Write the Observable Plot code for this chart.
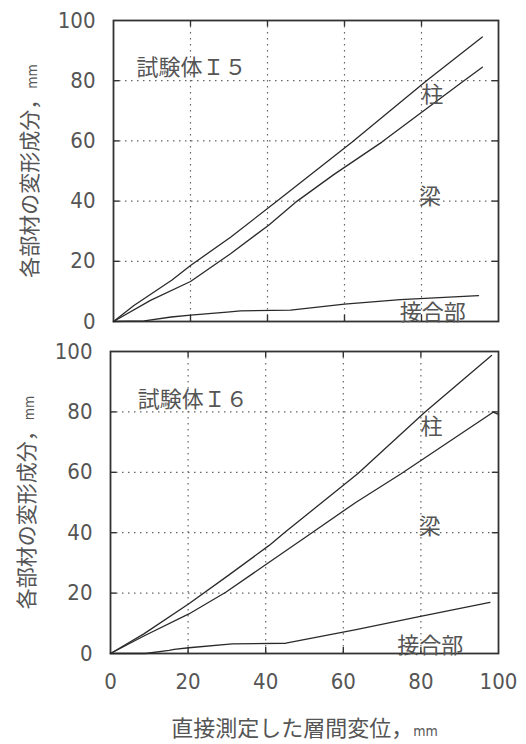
<!DOCTYPE html>
<html><head><meta charset="utf-8">
<script src="https://cdn.jsdelivr.net/npm/d3@7"></script>
<script src="https://cdn.jsdelivr.net/npm/@observablehq/plot@0.6"></script>
<style>
body{margin:0;background:#fff;width:526px;height:744px;overflow:hidden}
svg{display:block}
</style>
</head><body><div id="c"></div>
<script>
// ---- data ----
const ticks = [0, 20, 40, 60, 80, 100];
const seriesNames = ["柱", "梁", "接合部"];

// Specimen I5 (cumulative deformation components)
const i5TotalX = [0, 5.3, 15.2, 20, 30.4, 42.5, 62, 81.3, 95.8];
const i5TotalY = [0, 5.3, 13.8, 18.6, 28, 40, 59.6, 80, 94.5];
const i5MidX = [0, 9.6, 20, 30.4, 40.3, 47.7, 57.2, 69.7, 90.5, 95.8];
const i5MidY = [0, 7, 13.3, 22.5, 32, 40, 48.8, 59.6, 79.5, 84.5];
const i5JointX = [0, 8, 15, 20, 29.5, 33, 46, 60, 74.5, 94.8];
const i5JointY = [0, 0.2, 1.5, 2.1, 3.1, 3.5, 3.8, 5.8, 7.3, 8.6];

// Specimen I6
const i6TotalX = [0, 8.6, 20.2, 30.2, 40.9, 44.8, 63.7, 81, 98.2];
const i6TotalY = [0, 6.5, 16.5, 25.7, 35.8, 40, 59.5, 79.9, 98.7];
const i6MidX = [0, 8.6, 20.2, 29.7, 40.9, 50.9, 63.3, 74.9, 98.6, 100];
const i6MidY = [0, 5.8, 13.1, 20.3, 30.2, 39.1, 50.1, 59.5, 79.9, 79.2];
const i6JointX = [0, 9, 15.1, 16.4, 20.2, 31.4, 45.2, 63.3, 80.2, 97.8];
const i6JointY = [0, 0, 1, 1.4, 1.9, 3.2, 3.4, 7.9, 12.4, 16.9];

// annotation anchors (data coordinates)
const i5LabelX = [82.8, 82.2, 82.9];
const i5LabelY = [75.1, 41.3, 2.7];
const i6LabelX = [82.7, 82.3, 82.4];
const i6LabelY = [74.9, 41.8, 2.6];

const titles = ["試験体Ｉ５", "試験体Ｉ６"];
const yTitle = "各部材の変形成分，mm";
const xTitle = "直接測定した層間変位，mm";

// ---- build ----
function pts(xs, ys, s) { return xs.map((x, i) => ({x, y: ys[i], s})); }
const i5 = [...pts(i5TotalX, i5TotalY, "total"), ...pts(i5MidX, i5MidY, "mid"), ...pts(i5JointX, i5JointY, "joint")];
const i6 = [...pts(i6TotalX, i6TotalY, "total"), ...pts(i6MidX, i6MidY, "mid"), ...pts(i6JointX, i6JointY, "joint")];
const lab = (xs, ys) => seriesNames.map((n, i) => ({n, x: xs[i], y: ys[i]}));

const FONT = '"Liberation Sans Narrow","DejaVu Sans Condensed","Noto Sans CJK JP",sans-serif';
const INK = "#555";
const FRAME = "#333";

function panel({data, labels, title, tx, ty, height, marginTop, marginBottom, marginLeft, showX}) {
  const inner = ticks.slice(1, -1);
  const ends = [ticks[0], ticks[ticks.length - 1]];
  const marks = [
    // dotted grid
    Plot.ruleX(inner, {stroke: "#666", strokeWidth: 1.2, strokeDasharray: "1.5,4.5"}),
    Plot.ruleY(inner, {stroke: "#666", strokeWidth: 1.2, strokeDasharray: "1.5,4.5"}),
    // frame
    Plot.frame({stroke: FRAME, strokeWidth: 1.8}),
    // inward ticks on all four sides
    Plot.ruleX(inner, {y1: ends[0], y2: ends[0] + 2, stroke: FRAME, strokeWidth: 1.4}),
    Plot.ruleX(inner, {y1: ends[1], y2: ends[1] - 2, stroke: FRAME, strokeWidth: 1.4}),
    Plot.ruleY(inner, {x1: ends[0], x2: ends[0] + 1.6, stroke: FRAME, strokeWidth: 1.4}),
    Plot.ruleY(inner, {x1: ends[1], x2: ends[1] - 1.6, stroke: FRAME, strokeWidth: 1.4}),
    Plot.axisY(ticks, {anchor: "left", tickSize: 0, tickPadding: 18, label: null, fill: INK, fontSize: 22}),
    Plot.line(data, {x: "x", y: "y", z: "s", stroke: "#2a2a2a", strokeWidth: 1.3}),
    Plot.text(labels, {x: "x", y: "y", text: "n", fontSize: 22, fill: INK}),
    Plot.text([title], {x: () => tx, y: () => ty, textAnchor: "start", fontSize: 22, fill: INK}),
    Plot.text([yTitle], {frameAnchor: "left", dx: -83, rotate: -90, textAnchor: "middle", fontSize: 21, fill: INK})
  ];
  if (showX) {
    marks.push(Plot.axisX(ticks, {anchor: "bottom", tickSize: 0, tickPadding: 20, label: null, fill: INK, fontSize: 22}));
    marks.push(Plot.text([xTitle], {frameAnchor: "bottom", dy: 75, lineAnchor: "middle", textAnchor: "middle", fontSize: 22, fill: INK}));
  }
  return Plot.plot({
    width: 526, height, marginTop, marginBottom, marginLeft, marginRight: 28,
    x: {domain: [0, 100], axis: null},
    y: {domain: [0, 100], axis: null},
    style: {fontFamily: FONT, fontSize: "22px", background: "#fff", color: INK, overflow: "visible"},
    marks
  });
}

const chartTop = panel({data: i5, labels: lab(i5LabelX, i5LabelY), title: titles[0], tx: 6, ty: 84.4,
  height: 335, marginTop: 20, marginBottom: 14, marginLeft: 113, showX: false});
const chartBot = panel({data: i6, labels: lab(i6LabelX, i6LabelY), title: titles[1], tx: 7, ty: 83.8,
  height: 409, marginTop: 16, marginBottom: 91, marginLeft: 110, showX: true});
const c = document.getElementById("c");
c.appendChild(chartTop); c.appendChild(chartBot);

// smaller "mm" unit in axis titles
for (const svg of [chartTop, chartBot]) {
  d3.select(svg).selectAll("text").each(function() {
    const t = this.textContent;
    if (this.childElementCount === 0 && t.endsWith("，mm")) {
      const sel = d3.select(this);
      sel.text(t.slice(0, -2));
      sel.append("tspan").attr("font-size", 14).text("mm");
    }
  });
}
</script></body></html>
